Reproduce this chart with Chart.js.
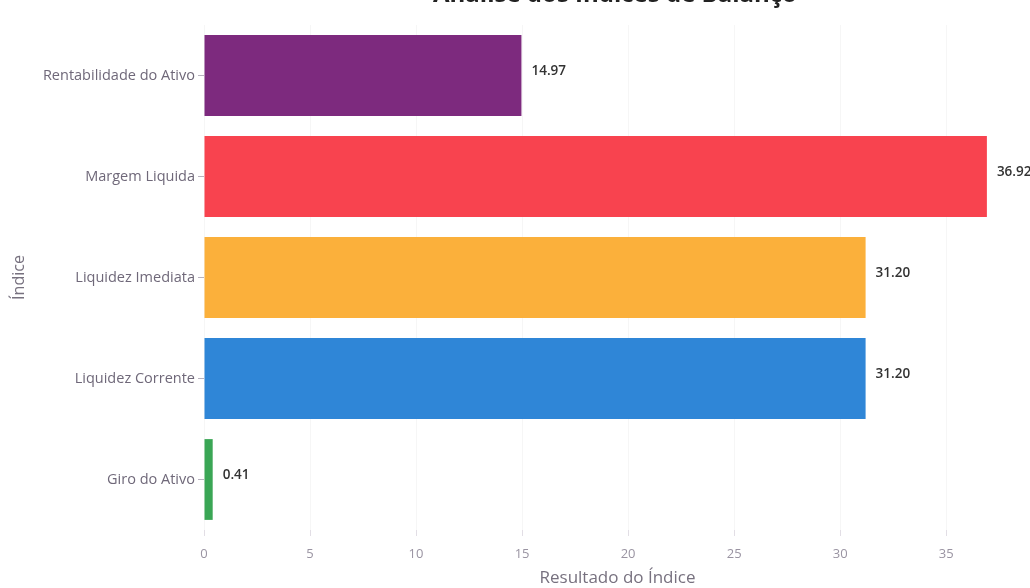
<!DOCTYPE html>
<html>
<head>
<meta charset="utf-8">
<script src="https://cdn.jsdelivr.net/npm/chart.js@4.4.1/dist/chart.umd.min.js"></script>
<style>
  html, body { margin: 0; padding: 0; background: #fff; overflow: hidden; }
  #wrap { position: absolute; left: 0; top: 0; width: 1060px; height: 588px; }
</style>
</head>
<body>
<div id="wrap"><canvas id="balanco-chart"></canvas></div>
<script>
// dados do gráfico
const indices = ['Rentabilidade do Ativo', 'Margem Liquida', 'Liquidez Imediata', 'Liquidez Corrente', 'Giro do Ativo'];
const resultados = [14.97, 36.92, 31.20, 31.20, 0.41];
const cores = ['#7d2a7e', '#f8434f', '#fbb03b', '#2f86d7', '#3aa655'];
const xTicks = [0, 5, 10, 15, 20, 25, 30, 35];

const canvas = document.getElementById('balanco-chart');
const ctx = canvas.getContext('2d');

// title is mostly cut off at the top of the picture, so draw it by hand
const titlePlugin = {
    id: 'cutTitle',
    afterDraw(chart) {
        const c = chart.ctx;
        c.save();
        c.font = 'bold 24px "Open Sans"';
        c.fillStyle = '#222';
        c.textAlign = 'center';
        c.textBaseline = 'alphabetic';
        c.fillText('Análise dos Índices de Balanço', 615, 2);
        c.restore();
    }
};

// value labels at the end of each bar
const valueLabels = {
    id: 'valueLabels',
    afterDatasetsDraw(chart) {
        const c = chart.ctx;
        const meta = chart.getDatasetMeta(0);
        c.save();
        c.font = '600 13.5px "Open Sans"';
        c.fillStyle = '#333';
        c.textAlign = 'left';
        c.textBaseline = 'middle';
        meta.data.forEach((bar, i) => {
            c.fillText(resultados[i].toFixed(2), bar.x + 10, bar.y - 4);
        });
        c.restore();
    }
};

const chart = new Chart(ctx, {
    type: 'bar',
    data: {
        labels: indices,
        datasets: [{
            data: resultados,
            backgroundColor: cores,
            borderWidth: 0,
            categoryPercentage: 1.0,
            barPercentage: 0.8
        }]
    },
    options: {
        indexAxis: 'y',
        responsive: true,
        maintainAspectRatio: false,
        animation: false,
        layout: { padding: { top: 25, right: 29, bottom: 0, left: 0 } },
        scales: {
            x: {
                min: 0,
                max: 39,
                afterBuildTicks(scale) {
                    scale.ticks = xTicks.map(v => ({ value: v }));
                },
                afterFit(scale) { scale.height = 58; },
                grid: {
                    color: 'rgba(0,0,0,0.035)',
                    tickColor: '#e2dee5',
                    tickLength: 6
                },
                border: { display: false },
                ticks: {
                    color: '#9a94a2',
                    font: { family: '"Open Sans"', size: 13 },
                    padding: 10
                },
                title: {
                    display: true,
                    text: 'Resultado do Índice',
                    color: '#77717f',
                    font: { family: '"Open Sans"', size: 17 },
                    padding: { top: 0, bottom: 0 }
                }
            },
            y: {
                afterFit(scale) { scale.width = 204; },
                grid: {
                    offset: false,
                    color: 'transparent',
                    tickColor: '#b8b2bf',
                    tickLength: 6
                },
                border: { display: false },
                ticks: {
                    color: '#6f6879',
                    font: { family: '"Open Sans"', size: 14.5 },
                    padding: 3
                },
                title: {
                    display: true,
                    text: 'Índice',
                    color: '#77717f',
                    font: { family: '"Open Sans"', size: 16 },
                    padding: { top: 10, bottom: 0 }
                }
            }
        },
        plugins: {
            legend: { display: false },
            title: { display: false },
            tooltip: { enabled: false }
        }
    },
    plugins: [titlePlugin, valueLabels]
});
</script>
</body>
</html>
